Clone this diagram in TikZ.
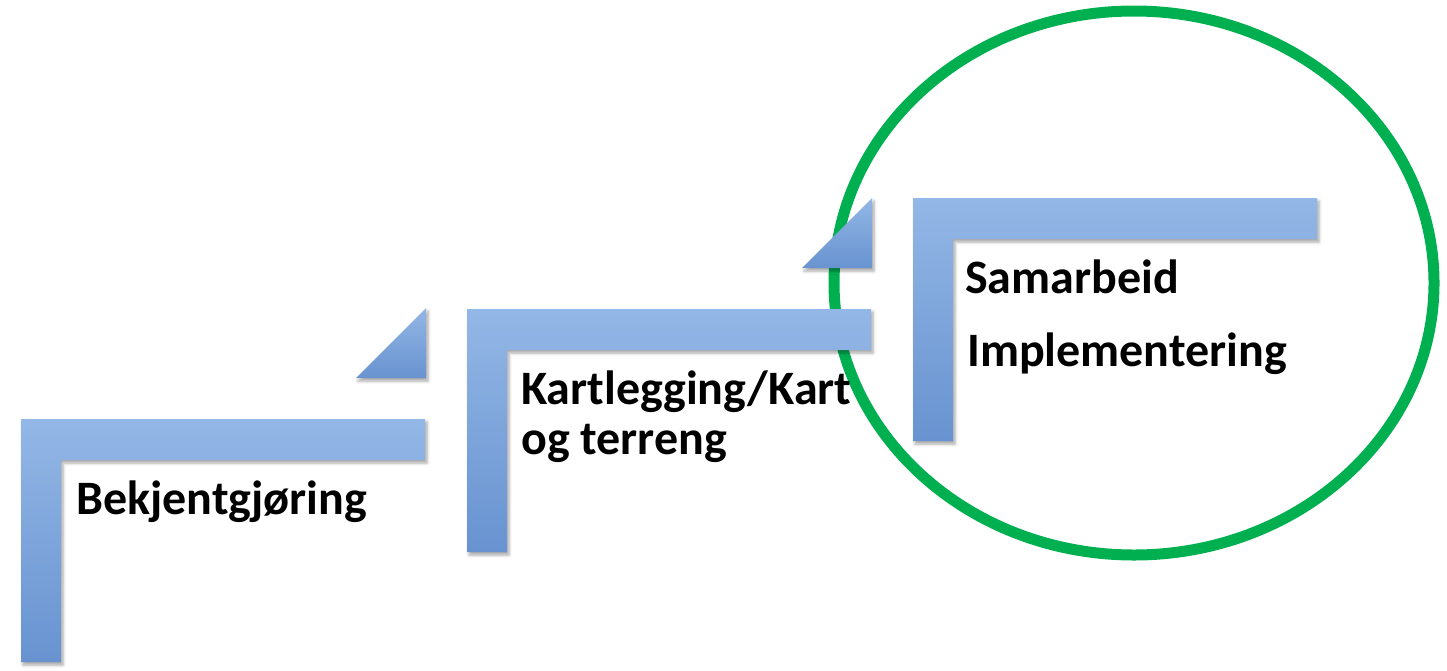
\documentclass[tikz,border=0pt]{standalone}
\usepackage{fontspec}
\setmainfont{Carlito}
\usetikzlibrary{shadows.blur}

\definecolor{stepTop}{HTML}{93B7E6}
\definecolor{stepBot}{HTML}{6893D0}
\definecolor{ringGreen}{HTML}{00B050}

\tikzset{
  stepfill/.style={top color=stepTop, bottom color=stepBot, draw=none,
    blur shadow={shadow xshift=2pt, shadow yshift=-3pt,
                 shadow blur radius=3pt, shadow opacity=35}},
  steplabel/.style={anchor=base west, inner sep=0pt, text=black,
    font=\fontsize{48}{54}\selectfont\bfseries},
  ring/.style={draw=ringGreen, line width=11pt}
}

% L-shaped stair step: #1 = top-left corner
\newcommand{\stairstep}[1]{%
  \path[stepfill] #1 -- ++(404,0) -- ++(0,41) -- ++(-364,0)
     -- ++(0,202) -- ++(-40,0) -- cycle;}
% small riser triangle: #1 = bottom-right corner
\newcommand{\riser}[1]{%
  \path[stepfill] #1 -- ++(0,-70) -- ++(-70,70) -- cycle;}

\begin{document}
\begin{tikzpicture}[x=1pt,y=-1pt]
  \useasboundingbox (0,0) rectangle (1447,670);

  % highlight ring around the last step
  \draw[ring] (1134,283) ellipse [x radius=300, y radius=272];

  % steps
  \stairstep{(21,419)}
  \riser{(426,378)}
  \stairstep{(467,309)}
  \riser{(872,268)}
  \stairstep{(913,198)}

  % labels
  \node[steplabel] (s1) at (76,514) {Bekjentgjøring};
  \node[steplabel] (s2a) at (521,404) {Kartlegging/Kart};
  \node[steplabel] (s2b) at (521,454) {og terreng};
  \node[steplabel] (s3a) at (965,293) {Samarbeid};
  \node[steplabel] (s3b) at (967,366) {Implementering};
\end{tikzpicture}
\end{document}
